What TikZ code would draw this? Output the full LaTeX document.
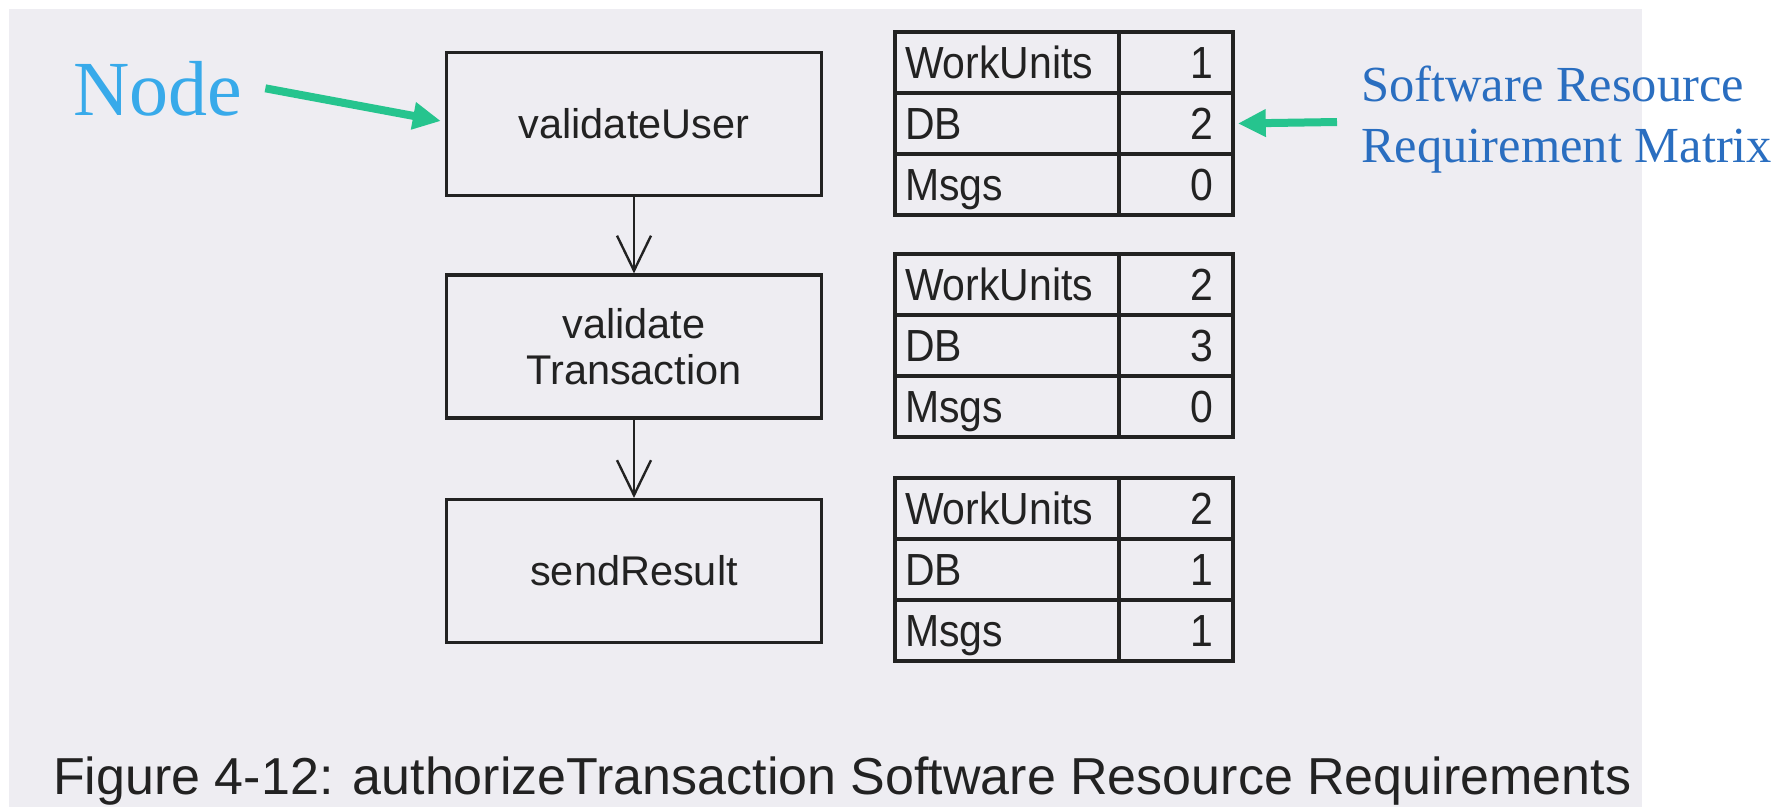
\documentclass[tikz,border=0pt]{standalone}
\usepackage{fontspec}
\setmainfont{Liberation Sans}
\newfontfamily\serifface{Liberation Serif}
\newfontfamily\tableface[FakeStretch=0.91]{Liberation Sans}
\usetikzlibrary{arrows.meta}

\definecolor{paper}{RGB}{238,237,242}
\definecolor{ink}{RGB}{34,34,34}
\definecolor{nodeblue}{RGB}{56,170,234}
\definecolor{matblue}{RGB}{42,110,192}
\definecolor{pointer}{RGB}{38,196,142}

% One resource table: #1 name prefix, #2 top edge, #3..#5 the three values
\newcommand\restable[5]{%
  \node[namecell] (#1n1) at (1007,#2+30.5)  {WorkUnits};
  \node[valcell]  (#1v1) at (1176,#2+30.5)  {#3};
  \node[namecell] (#1n2) at (1007,#2+91.5)  {DB};
  \node[valcell]  (#1v2) at (1176,#2+91.5)  {#4};
  \node[namecell] (#1n3) at (1007,#2+152.5) {Msgs};
  \node[valcell]  (#1v3) at (1176,#2+152.5) {#5};
}

\begin{document}
\begin{tikzpicture}[x=1pt,y=-1pt,
  stepbox/.style={draw=ink, line width=3.2pt, minimum width=375pt,
    minimum height=143pt, inner sep=0pt, align=center, text=ink,
    font=\fontsize{41.5}{46}\selectfont},
  flow/.style={draw=ink, line width=2.4pt,
    -{Straight Barb[length=35pt,width=34pt]}},
  namecell/.style={draw=ink, line width=3.6pt, minimum height=61pt,
    inner ysep=0pt, inner xsep=10pt, text width=204pt, align=left,
    text height=36pt, text depth=4pt, text=ink,
    font=\tableface\fontsize{45}{50}\selectfont},
  valcell/.style={namecell, inner xsep=20pt, text width=74pt, align=right},
  pointer arrow/.style={draw=pointer, line width=8pt,
    -{Triangle[length=28pt,width=26pt]}}
]
\useasboundingbox (0,0) rectangle (1781,807);
\fill[white] (0,0) rectangle (1781,807);
\fill[paper] (9,9) rectangle (1642,807);

% activity nodes
\node[stepbox] (B1) at (634,124)   {validateUser};
\node[stepbox] (B2) at (634,346.5) {validate\\Transaction};
\node[stepbox] (B3) at (634,571)   {sendResult};

\draw[flow] (B1) -- (B2);
\draw[flow] (B2) -- (B3);

% resource requirement tables
\restable{ta}{32}{1}{2}{0}
\restable{tb}{254}{2}{3}{0}
\restable{tc}{478}{2}{1}{1}

% annotations
\node[anchor=base west, inner sep=0pt, text=nodeblue,
  font=\serifface\fontsize{78}{90}\selectfont] (nodelbl) at (73,115) {Node};
\draw[pointer arrow] ([xshift=23pt]nodelbl.east) -- ([xshift=-4pt,yshift=3pt]B1.west);

\node[anchor=north west, inner sep=0pt, align=left, text=matblue,
  font=\serifface\fontsize{50.5}{61}\selectfont] (srrm) at (1361,66)
  {Software Resource\\Requirement Matrix};
\coordinate (srrmtail) at (1337,122);
\draw[pointer arrow] (srrmtail) -- ([xshift=3pt]tav2.east);

% caption
\node[anchor=base west, inner sep=0pt, text=ink,
  font=\fontsize{52}{60}\selectfont] (caption) at (53,794)
  {Figure 4-12: authorizeTransaction Software Resource Requirements};
\end{tikzpicture}
\end{document}
